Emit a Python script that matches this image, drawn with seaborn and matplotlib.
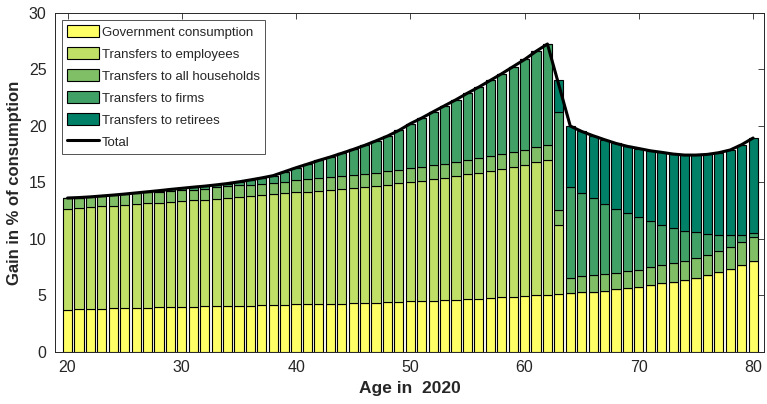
import numpy as np
import matplotlib
matplotlib.use("Agg")
import matplotlib.pyplot as plt
import seaborn as sns
from matplotlib.patches import Patch
from matplotlib.lines import Line2D

ages = np.arange(20, 81)

# heights of each stacked component, in % of consumption
gov = [3.73, 3.76, 3.79, 3.82, 3.84, 3.87, 3.89, 3.91, 3.94, 3.96, 3.98,
       4.00, 4.02, 4.04, 4.06, 4.08, 4.10, 4.12, 4.14, 4.17, 4.20,
       4.21, 4.23, 4.25, 4.27, 4.30, 4.32, 4.35, 4.39, 4.43, 4.47,
       4.50, 4.53, 4.58, 4.61, 4.65, 4.71, 4.77, 4.82, 4.86, 4.91,
       5.00, 5.06, 5.15, 5.21, 5.27, 5.32, 5.42, 5.53, 5.65, 5.74,
       5.92, 6.06, 6.21, 6.39, 6.57, 6.83, 7.07, 7.34, 7.69, 8.07]
employees = [8.91, 8.97, 9.03, 9.06, 9.10, 9.16, 9.20, 9.23, 9.26, 9.30, 9.37,
             9.41, 9.45, 9.52, 9.56, 9.62, 9.69, 9.73, 9.80, 9.86, 9.92,
             9.97, 10.04, 10.10, 10.17, 10.23, 10.30, 10.36, 10.41, 10.48, 10.56,
             10.65, 10.77, 10.84, 10.95, 11.06, 11.15, 11.24, 11.36, 11.50, 11.66,
             11.77, 11.92, 6.11, 0, 0, 0, 0, 0, 0, 0,
             0, 0, 0, 0, 0, 0, 0, 0, 0, 0]
households = [0.98, 0.93, 0.90, 0.92, 0.93, 0.92, 0.95, 0.97, 0.98, 1.00, 0.98,
              0.95, 0.97, 1.00, 1.03, 1.04, 1.01, 1.03, 1.00, 1.03, 1.08,
              1.15, 1.15, 1.15, 1.15, 1.15, 1.15, 1.15, 1.17, 1.21, 1.21,
              1.24, 1.20, 1.21, 1.21, 1.24, 1.26, 1.29, 1.30, 1.33, 1.28,
              1.36, 1.32, 1.32, 1.36, 1.41, 1.45, 1.47, 1.48, 1.51, 1.54,
              1.56, 1.60, 1.66, 1.68, 1.77, 1.77, 1.86, 1.94, 2.00, 2.10]
firms = [0.0, 0.0, 0.0, 0.0, 0.01, 0.02, 0.03, 0.06, 0.09, 0.12, 0.15,
         0.22, 0.23, 0.22, 0.25, 0.31, 0.42, 0.52, 0.66, 0.89, 1.10,
         1.29, 1.53, 1.75, 1.99, 2.24, 2.51, 2.82, 3.13, 3.48, 3.96,
         4.31, 4.75, 5.16, 5.55, 5.95, 6.32, 6.73, 7.14, 7.56, 8.03,
         8.47, 8.95, 8.65, 8.02, 7.38, 6.82, 6.23, 5.66, 5.13, 4.66,
         4.10, 3.57, 3.12, 2.65, 2.24, 1.83, 1.44, 1.03, 0.68, 0.35]
retirees = [0] * 43 + [2.86, 5.40, 5.45, 5.54, 5.66, 5.78, 5.90, 6.06,
                       6.22, 6.43, 6.52, 6.70, 6.84, 7.05, 7.26, 7.56, 7.97, 8.41]

labels = ["Government consumption", "Transfers to employees",
          "Transfers to all households", "Transfers to firms",
          "Transfers to retirees"]
# MATLAB "summer" colormap, reversed
colors = ["#ffff66", "#bfdf66", "#80bf66", "#40a066", "#008066"]

sns.set_style("white")
plt.rcParams['font.family'] = ['Liberation Sans', 'DejaVu Sans']

fig = plt.figure(figsize=(7.67, 4.04), dpi=100)
ax = fig.add_axes([0.0717, 0.129, 0.9243, 0.839])

series = [gov, employees, households, firms, retirees]
bottom = np.zeros(len(ages))
for vals, col in zip(series, colors):
    vals = np.array(vals)
    ax.bar(ages, vals, width=0.8, bottom=bottom, color=col,
           edgecolor="black", linewidth=0.8)
    bottom = bottom + vals

# total line is drawn without the age-63 point in the original
total = bottom
mask = ages != 63
sns.lineplot(x=ages[mask], y=total[mask], color="black", linewidth=2.2, ax=ax)

ax.set_xlim(18.9, 80.95)
ax.set_ylim(0, 30)
ax.set_xticks(range(20, 81, 10))
ax.set_yticks(range(0, 31, 5))
ax.tick_params(direction="in", length=4, width=0.6, top=True, right=True,
               labelsize=11.5, colors="#262626", pad=6)
for s in ax.spines.values():
    s.set_color("#262626")
    s.set_linewidth(0.7)

ax.set_xlabel("Age in  2020", fontsize=12.5, fontweight="bold", labelpad=4)
ax.set_ylabel("Gain in % of consumption", fontsize=12, fontweight="bold", labelpad=5)

handles = [Patch(facecolor=c, edgecolor="black", linewidth=0.8) for c in colors]
handles.append(Line2D([0], [0], color="black", linewidth=2.2))
leg = ax.legend(handles, labels + ["Total"], loc="upper left", fontsize=9.5,
                frameon=True, fancybox=False, borderaxespad=0.5,
                handlelength=2.4, handleheight=1.1, handletextpad=0.25,
                labelspacing=0.62, borderpad=0.4)
leg.get_frame().set_edgecolor("#262626")
leg.get_frame().set_linewidth(0.7)

fig.savefig("out.png", dpi=100)
